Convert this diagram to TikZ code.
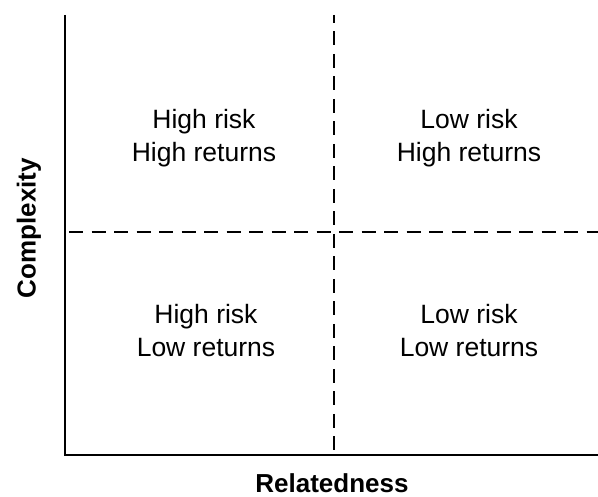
\documentclass[tikz,border=0pt]{standalone}
\usepackage{fontspec}
\setmainfont{Liberation Sans}
\usetikzlibrary{positioning}

\begin{document}
\begin{tikzpicture}[x=1pt,y=1pt,line width=2.4pt,
    quad/.style={align=center,font=\fontsize{26.5}{33}\selectfont},
    axislabel/.style={font=\fontsize{26}{30}\selectfont\bfseries},
    split/.style={dash pattern=on 14pt off 8.5pt}]
  \useasboundingbox (0,0) rectangle (598,497);
  \coordinate (O) at (65,42);
  \coordinate (top) at (65,482);
  \coordinate (right) at (598,42);
  \coordinate (midtop) at (334,482);
  \coordinate (midbot) at (334,42);
  \coordinate (midleft) at (65,265);
  \coordinate (midright) at (598,265);
  \draw (top) -- (O) -- (right);
  \draw[split,dash phase=6pt] (midtop) -- (midbot);
  \draw[split,dash phase=-4pt] (midleft) -- (midright);
  \node[quad] (hh) at (204,359) {High risk\\High returns};
  \node[quad] (lh) at (469,359) {Low risk\\High returns};
  \node[quad] (hl) at (206,166) {High risk\\Low returns};
  \node[quad] (ll) at (469,166) {Low risk\\Low returns};
  \node[axislabel] (rel) at (332,14) {Relatedness};
  \node[axislabel,rotate=90] (cpx) at (29,269) {Complexity};
\end{tikzpicture}
\end{document}
